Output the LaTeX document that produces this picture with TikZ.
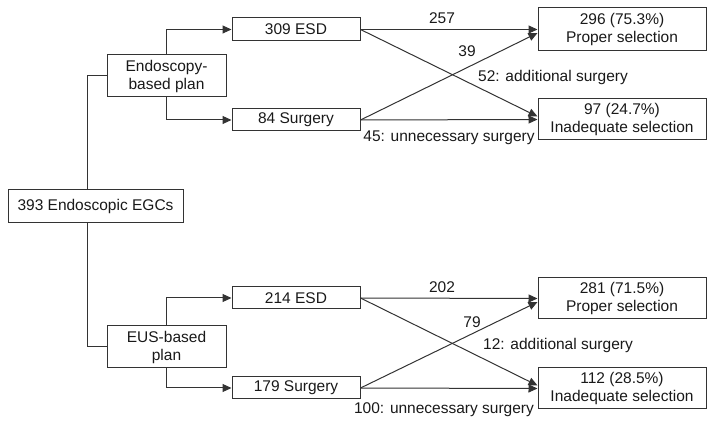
\documentclass[tikz,border=0pt]{standalone}
\usepackage{fontspec}
\setmainfont{Liberation Sans}
\usetikzlibrary{calc,arrows.meta}
\definecolor{ln}{HTML}{333333}
\begin{document}
\begin{tikzpicture}[x=1pt,y=-1pt,
  box/.style={draw=ln,line width=1pt,inner sep=0pt,align=center,font=\fontsize{15.5}{18}\selectfont,text=black!90},
  lbl/.style={inner sep=0pt,font=\fontsize{15.5}{18}\selectfont,text=black!90},
  conn/.style={draw=ln,line width=1pt},
  arr/.style={conn,-{Triangle[length=9pt,width=8pt]}}]
\useasboundingbox (0,0) rectangle (715,427);
\node[box,minimum width=175pt,minimum height=33pt] (root) at (95.5,206) {393 Endoscopic EGCs};
\node[box,minimum width=119pt,minimum height=42pt] (endo) at (166.5,76) {Endoscopy-\\based plan};
\node[box,minimum width=119pt,minimum height=42pt] (eus) at (166.5,347) {EUS-based\\plan};
\node[box,minimum width=128pt,minimum height=23pt] (esd1) at (296,29.5) {309 ESD};
\node[box,minimum width=128pt,minimum height=22pt] (surg1) at (296,120) {84 Surgery};
\node[box,minimum width=128pt,minimum height=22pt] (esd2) at (296,298) {214 ESD};
\node[box,minimum width=128pt,minimum height=22pt] (surg2) at (296,388) {179 Surgery};
\node[box,minimum width=168pt,minimum height=43pt] (prop1) at (622,29.5) {296 (75.3\%)\\Proper selection};
\node[box,minimum width=168pt,minimum height=41pt] (inad1) at (622,119.5) {97 (24.7\%)\\Inadequate selection};
\node[box,minimum width=168pt,minimum height=41pt] (prop2) at (622,298.5) {281 (71.5\%)\\Proper selection};
\node[box,minimum width=168pt,minimum height=41pt] (inad2) at (622,388.5) {112 (28.5\%)\\Inadequate selection};
% tree connectors
\draw[conn] ($(root.north)+(-8.5,0)$) |- (endo.west);
\draw[conn] ($(root.south)+(-8.5,0)$) |- (eus.west);
\draw[arr] (endo.north) |- (esd1.west);
\draw[arr] (endo.south) |- (surg1.west);
\draw[arr] (eus.north) |- (esd2.west);
\draw[arr] (eus.south) |- (surg2.west);
% outcome arrows, top
\draw[arr] (esd1.east) -- (prop1.west);
\draw[arr] (esd1.east) -- ($(inad1.west)+(0,-3)$);
\draw[arr] (surg1.east) -- (inad1.west);
\draw[arr] (surg1.east) -- ($(prop1.west)+(0,3.5)$);
% outcome arrows, bottom
\draw[arr] (esd2.east) -- (prop2.west);
\draw[arr] (esd2.east) -- ($(inad2.west)+(0,-3)$);
\draw[arr] (surg2.east) -- (inad2.west);
\draw[arr] (surg2.east) -- ($(prop2.west)+(0,3.5)$);
% labels
\node[lbl] (l257) at (442,18) {257};
\node[lbl] (l39) at (467,51) {39};
\node[lbl] (l52) at (553,77) {52: additional surgery};
\node[lbl] (l45) at (449,138) {45: unnecessary surgery};
\node[lbl] (l202) at (442,287) {202};
\node[lbl] (l79) at (472,322) {79};
\node[lbl] (l12) at (558,345) {12: additional surgery};
\node[lbl] (l100) at (444,410) {100: unnecessary surgery};
\end{tikzpicture}
\end{document}
